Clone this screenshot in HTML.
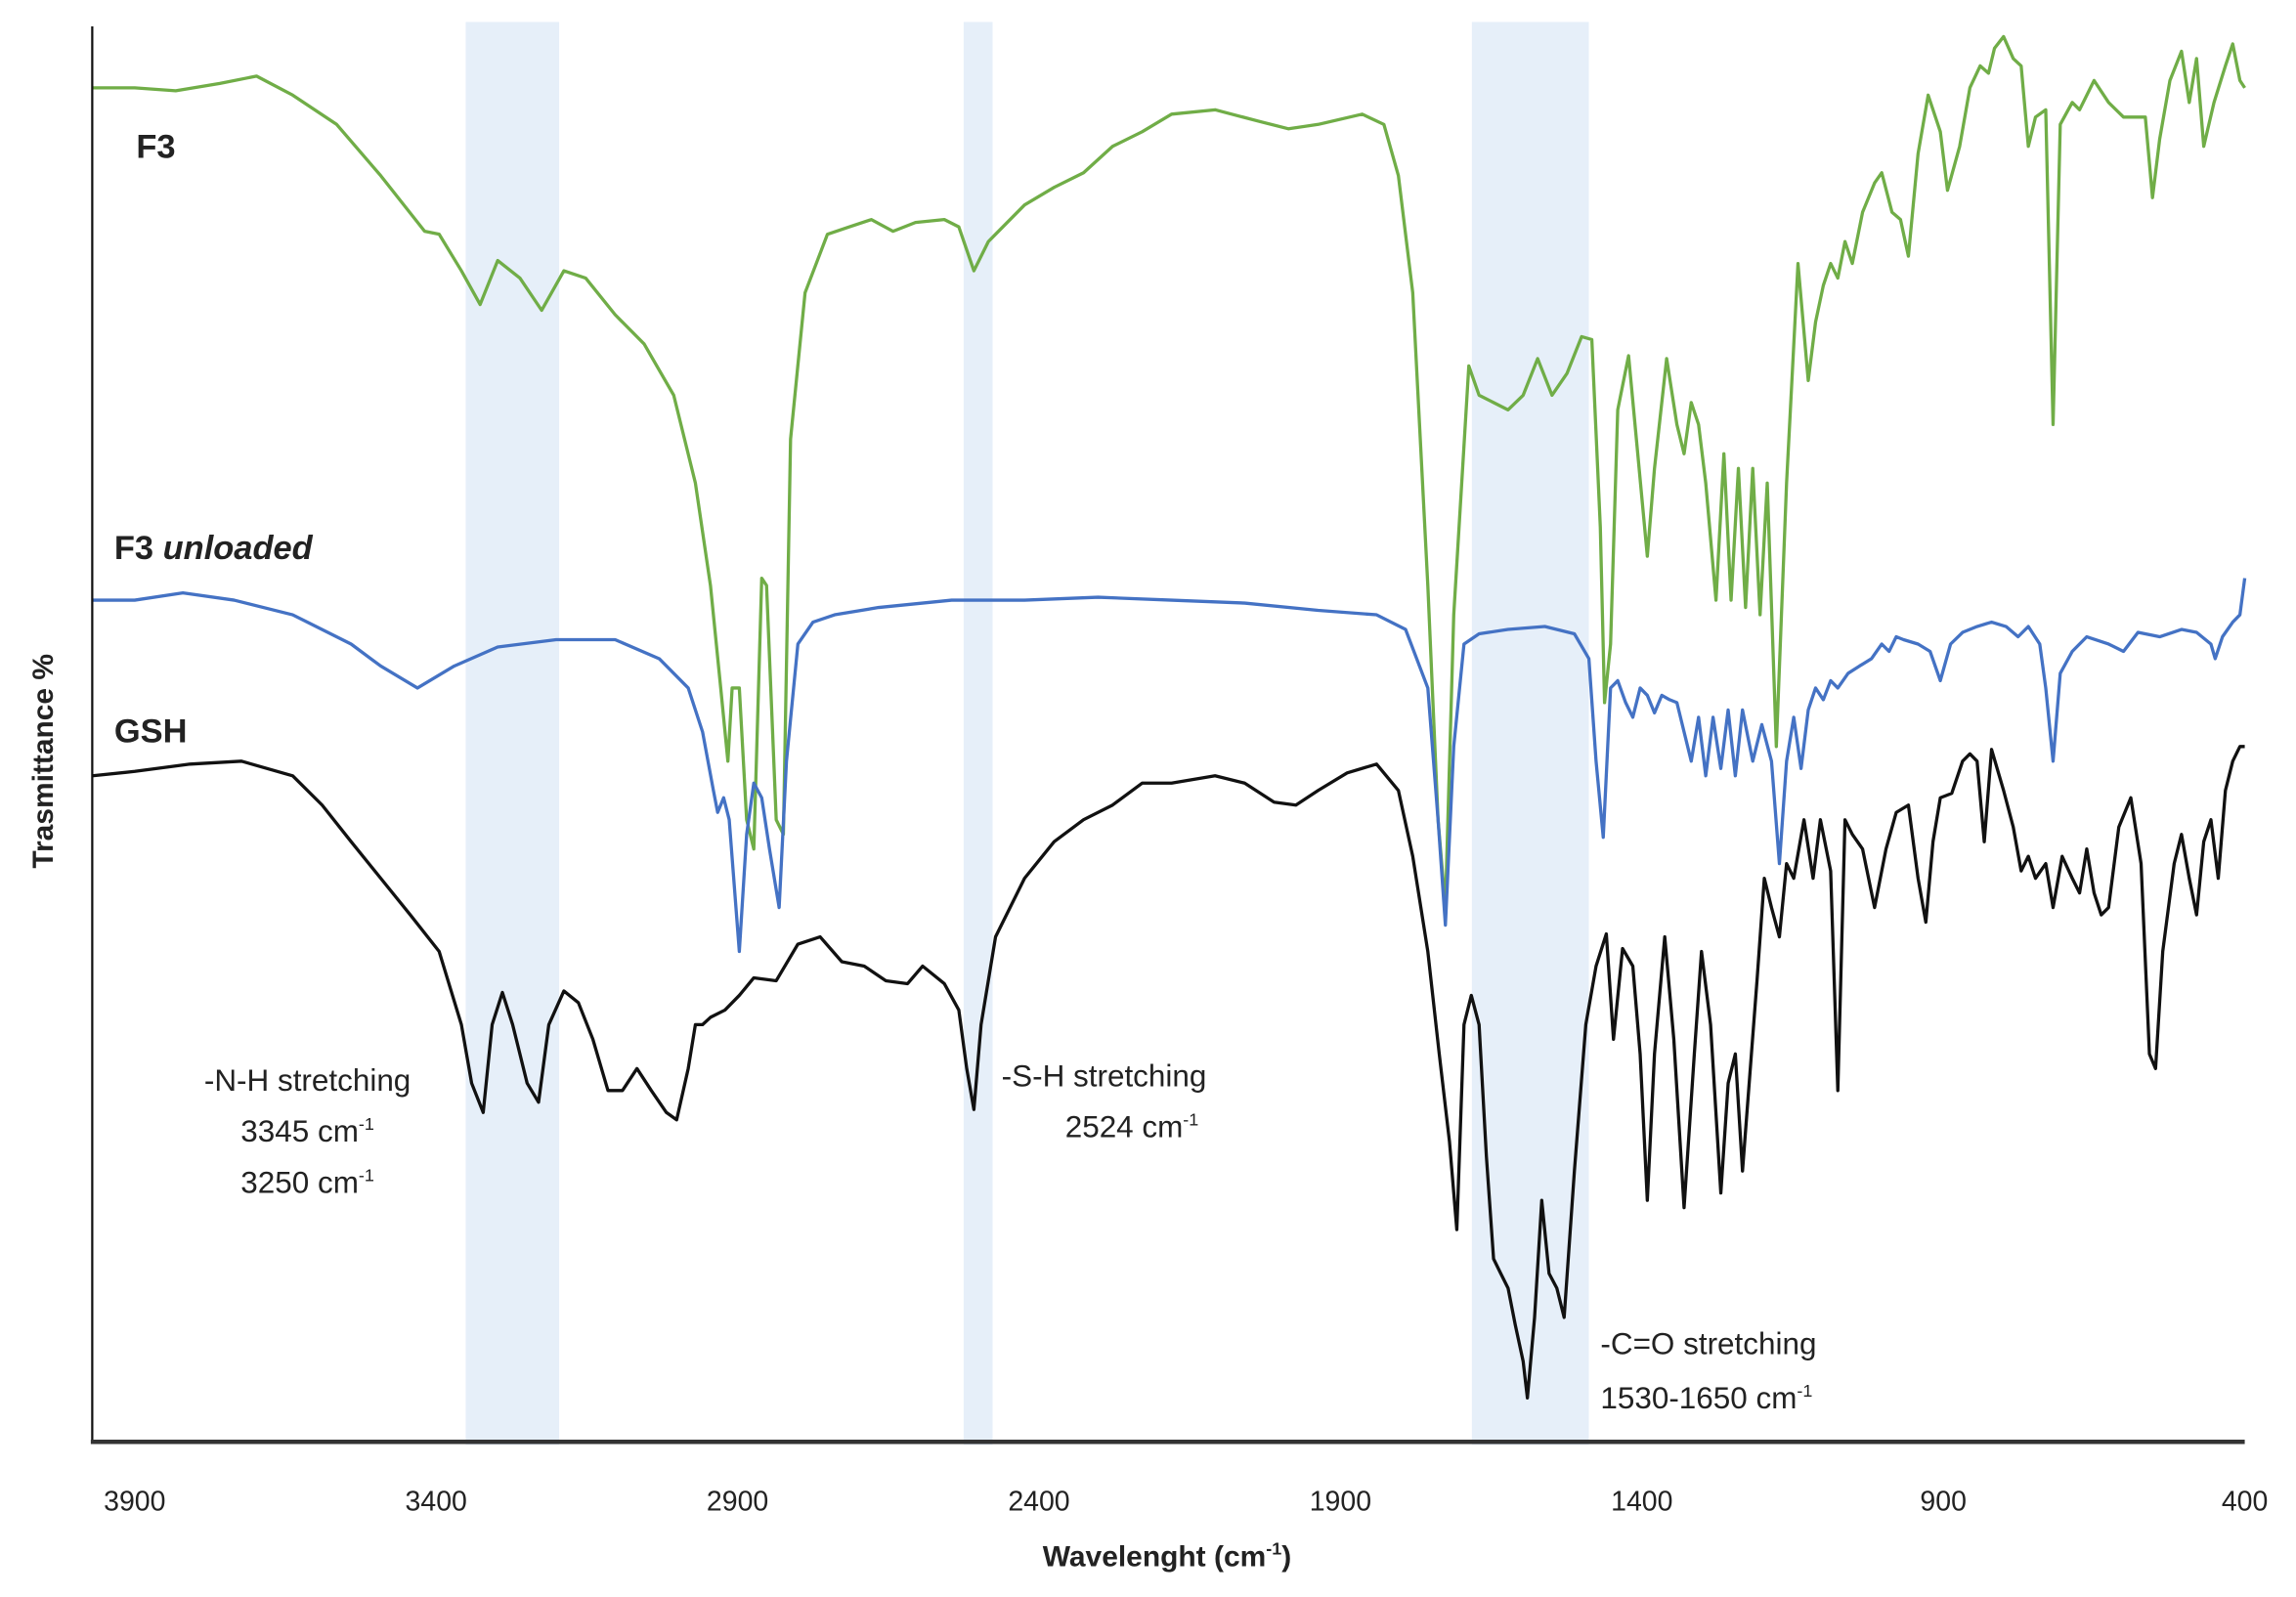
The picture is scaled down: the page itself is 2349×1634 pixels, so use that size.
<!DOCTYPE html>
<html><head><meta charset="utf-8"><style>
html,body{margin:0;padding:0;background:#fff;}
svg{display:block;}
text{font-family:"Liberation Sans",sans-serif;fill:#222;}
</style></head><body>
<svg id="chart" width="2349" height="1634" viewBox="0 0 1568 1091" preserveAspectRatio="none" xmlns="http://www.w3.org/2000/svg">
<g id="bands"></g>
<g id="series"></g>
<line x1="63" y1="18" x2="63" y2="985" stroke="#111" stroke-width="1.5"/>
<line x1="62" y1="985" x2="1533" y2="985" stroke="#333" stroke-width="3"/>
<g id="ticks"></g>
<text x="797" y="1070" text-anchor="middle" font-size="20" font-weight="bold">Wavelenght (cm<tspan font-size="12" dy="-8">-1</tspan><tspan dy="8">)</tspan></text>
<text transform="translate(36,520) rotate(-90)" text-anchor="middle" font-size="20" font-weight="bold">Trasmittance %</text>
<text x="93" y="108" font-size="23" font-weight="bold">F3</text>
<text x="78" y="382" font-size="23" font-weight="bold">F3 <tspan font-style="italic">unloaded</tspan></text>
<text x="78" y="507" font-size="23" font-weight="bold">GSH</text>
<g font-size="21">
<text x="210" y="745" text-anchor="middle">-N-H stretching</text>
<text x="210" y="780" text-anchor="middle">3345 cm<tspan font-size="12" dy="-8">-1</tspan></text>
<text x="210" y="815" text-anchor="middle">3250 cm<tspan font-size="12" dy="-8">-1</tspan></text>
</g>
<g font-size="21">
<text x="684" y="742">-S-H stretching</text>
<text x="773" y="777" text-anchor="middle">2524 cm<tspan font-size="12" dy="-8">-1</tspan></text>
</g>
<g font-size="21">
<text x="1093" y="925">-C=O stretching</text>
<text x="1093" y="962">1530-1650 cm<tspan font-size="12" dy="-8">-1</tspan></text>
</g>
</svg>
<script>
const xTicks = [3900,3400,2900,2400,1900,1400,900,400];
const bandRanges = [[3351,3196],[2525,2477],[1682,1488]];
const seriesNames = ['F3','F3 unloaded','GSH'];
const f3 = [[3970,940],[3900,940],[3832,938],[3759,943],[3698,948],[3638,935],[3565,915],[3492,880],[3419,842],[3395,840],[3358,815],[3327,792],[3298,822],[3261,810],[3225,788],[3188,815],[3152,810],[3103,785],[3055,765],[3006,730],[2970,670],[2945,600],[2928,530],[2916,480],[2909,530],[2897,530],[2885,440],[2873,420],[2860,605],[2852,600],[2836,440],[2824,430],[2812,700],[2788,800],[2751,840],[2715,845],[2678,850],[2642,842],[2605,848],[2557,850],[2533,845],[2508,815],[2484,835],[2424,860],[2375,872],[2326,882],[2278,900],[2229,910],[2180,922],[2108,925],[2034,917],[1986,912],[1937,915],[1864,922],[1828,915],[1804,880],[1780,800],[1755,600],[1738,440],[1726,380],[1712,580],[1687,750],[1670,730],[1646,725],[1622,720],[1597,730],[1573,755],[1549,730],[1524,745],[1500,770],[1483,768],[1469,640],[1462,520],[1452,560],[1440,720],[1422,757],[1408,695],[1391,620],[1379,680],[1359,755],[1342,710],[1330,690],[1318,725],[1306,710],[1294,670],[1277,590],[1264,690],[1252,590],[1240,680],[1228,585],[1216,680],[1204,580],[1192,670],[1177,490],[1160,670],[1141,820],[1124,740],[1112,780],[1099,805],[1087,820],[1075,810],[1063,835],[1051,820],[1034,855],[1014,875],[1002,882],[985,855],[971,850],[958,825],[942,895],[925,935],[905,910],[893,870],[873,900],[856,940],[839,955],[825,950],[815,967],[800,975],[784,960],[771,955],[759,900],[747,920],[730,925],[718,710],[706,915],[686,930],[674,925],[650,945],[626,930],[601,920],[565,920],[553,865],[541,905],[524,945],[505,965],[492,930],[480,960],[468,900],[451,930],[432,955],[420,970],[408,945],[400,940]];
const f3Unloaded = [[3970,590],[3900,590],[3820,595],[3735,590],[3638,580],[3541,560],[3492,545],[3431,530],[3370,545],[3298,558],[3201,563],[3103,563],[3030,550],[2982,530],[2958,500],[2940,460],[2933,445],[2923,455],[2914,440],[2897,350],[2885,430],[2873,465],[2860,455],[2847,420],[2831,380],[2819,480],[2800,560],[2775,575],[2739,580],[2666,585],[2545,590],[2424,590],[2302,592],[2180,590],[2059,588],[1937,583],[1840,580],[1792,570],[1755,530],[1738,440],[1726,368],[1712,490],[1695,560],[1670,567],[1622,570],[1561,572],[1512,567],[1488,550],[1476,480],[1464,428],[1452,530],[1440,535],[1427,520],[1415,510],[1403,530],[1391,525],[1379,513],[1367,525],[1354,522],[1342,520],[1330,500],[1318,480],[1306,510],[1294,470],[1282,510],[1269,475],[1257,515],[1245,470],[1233,515],[1216,480],[1201,505],[1185,480],[1172,410],[1160,480],[1148,510],[1136,475],[1124,515],[1112,530],[1099,522],[1087,535],[1075,530],[1058,540],[1039,545],[1019,550],[1002,560],[990,555],[978,565],[966,563],[942,560],[922,555],[905,535],[888,560],[868,568],[844,572],[820,575],[796,572],[776,565],[759,572],[740,560],[730,530],[718,480],[706,540],[686,555],[662,565],[626,560],[601,555],[577,568],[541,565],[505,570],[480,568],[456,560],[449,550],[437,565],[420,575],[408,580],[400,605]];
const gsh = [[3970,470],[3900,473],[3808,478],[3723,480],[3638,470],[3589,450],[3541,425],[3492,400],[3443,375],[3395,350],[3358,300],[3341,260],[3322,240],[3307,300],[3290,322],[3273,300],[3249,260],[3230,247],[3213,300],[3188,323],[3164,315],[3140,290],[3115,255],[3091,255],[3067,270],[3043,255],[3018,240],[3001,235],[2982,270],[2970,300],[2958,300],[2945,305],[2921,310],[2897,320],[2873,332],[2836,330],[2800,355],[2763,360],[2727,343],[2690,340],[2654,330],[2618,328],[2593,340],[2557,328],[2533,310],[2520,270],[2508,242],[2496,300],[2472,360],[2424,400],[2375,425],[2326,440],[2278,450],[2229,465],[2180,465],[2108,470],[2059,465],[2010,452],[1974,450],[1937,460],[1889,472],[1840,478],[1804,460],[1780,415],[1755,350],[1736,280],[1719,220],[1707,160],[1695,300],[1683,320],[1670,300],[1658,210],[1646,140],[1634,130],[1622,120],[1610,95],[1597,70],[1590,45],[1578,100],[1566,180],[1554,130],[1541,120],[1529,100],[1512,200],[1493,300],[1476,340],[1459,362],[1447,290],[1432,352],[1415,340],[1403,280],[1391,180],[1379,280],[1362,360],[1347,290],[1330,175],[1313,280],[1301,350],[1286,300],[1269,185],[1257,260],[1245,280],[1233,200],[1209,330],[1197,400],[1185,380],[1172,360],[1160,410],[1148,400],[1131,440],[1116,400],[1104,440],[1087,405],[1075,255],[1063,440],[1051,430],[1034,420],[1014,380],[995,420],[978,445],[958,450],[942,400],[929,370],[917,425],[905,455],[886,458],[868,480],[856,485],[844,480],[832,425],[820,488],[800,460],[784,435],[771,405],[759,415],[747,400],[730,410],[718,380],[703,415],[686,400],[674,390],[662,420],[650,390],[638,375],[626,380],[609,435],[589,455],[572,410],[558,280],[548,270],[536,350],[517,410],[505,430],[492,400],[480,375],[468,425],[456,440],[444,400],[432,460],[420,480],[408,490],[400,490]];

const NS='http://www.w3.org/2000/svg';
function xScale(w){ return 92 + (3900 - w) * (1533 - 92) / 3500; }
function yScale(t){ return 1000 - t; }

const bandsG=document.getElementById('bands');
bandRanges.forEach(function(r,i){
  const rc=document.createElementNS(NS,'rect');
  
  
  const x1=xScale(r[0]), x2=xScale(r[1]);
  rc.setAttribute('x',x1); rc.setAttribute('y',15);
  rc.setAttribute('width',x2-x1); rc.setAttribute('height',972);
  rc.setAttribute('fill','#e6eff9');
  bandsG.appendChild(rc);
});

const tg=document.getElementById('ticks');
xTicks.forEach(function(v){
  const t=document.createElementNS(NS,'text');
  
  
  t.setAttribute('x',xScale(v)); t.setAttribute('y',1032);
  t.setAttribute('text-anchor','middle'); t.setAttribute('font-size','19');
  t.textContent=v;
  tg.appendChild(t);
});

const sg=document.getElementById('series');
[[f3,'#70ad47','series-f3'],[f3Unloaded,'#4472c4','series-f3-unloaded'],[gsh,'#111111','series-gsh']].forEach(function(s){
  const p=document.createElementNS(NS,'path');
  
  
  p.setAttribute('d',s[0].map(function(pt,i){return (i?'L':'M')+xScale(pt[0]).toFixed(1)+','+yScale(pt[1]).toFixed(1);}).join(''));
  p.setAttribute('fill','none'); p.setAttribute('stroke',s[1]);
  p.setAttribute('stroke-width','2.2'); p.setAttribute('stroke-linejoin','round');
  sg.appendChild(p);
});
</script>
</body></html>
